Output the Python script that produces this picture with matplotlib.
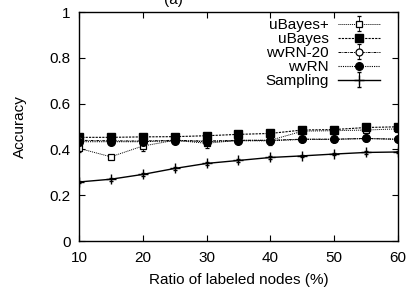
import matplotlib
matplotlib.use('Agg')
import matplotlib.pyplot as plt

plt.rcParams['font.family'] = ['Liberation Sans', 'DejaVu Sans']

ratio = [10, 15, 20, 25, 30, 35, 40, 45, 50, 55, 60]

ubayes_plus = [0.405, 0.368, 0.415, 0.44, 0.427, 0.44, 0.44, 0.48, 0.482, 0.485, 0.49]
ubayes_plus_err = [0.015, 0.01, 0.02, 0.01, 0.02, 0.01, 0.02, 0.01, 0.01, 0.015, 0.01]
ubayes = [0.453, 0.453, 0.455, 0.456, 0.46, 0.466, 0.47, 0.485, 0.487, 0.496, 0.499]
wvrn20 = [0.44, 0.438, 0.437, 0.44, 0.437, 0.44, 0.44, 0.445, 0.445, 0.448, 0.445]
wvrn20_err = [0.01, 0.01, 0.01, 0.01, 0.01, 0.01, 0.01, 0.01, 0.01, 0.01, 0.01]
wvrn = [0.434, 0.434, 0.434, 0.438, 0.434, 0.438, 0.438, 0.444, 0.444, 0.448, 0.444]
sampling = [0.258, 0.27, 0.291, 0.317, 0.339, 0.352, 0.365, 0.372, 0.38, 0.387, 0.389]
sampling_err = [0.006, 0.006, 0.006, 0.006, 0.006, 0.006, 0.006, 0.006, 0.006, 0.006, 0.006]

fig = plt.figure(figsize=(4.09, 2.89), dpi=100)
ax = fig.add_axes([0.193, 0.166, 0.78, 0.792])

ax.errorbar(ratio, ubayes_plus, yerr=ubayes_plus_err, color='black', ls=(0, (1, 1)), lw=0.7,
            marker='s', mfc='white', ms=5, mew=0.9, capsize=1.5, elinewidth=0.6, label='uBayes+')
ax.errorbar(ratio, ubayes, color='black', ls=(0, (2, 1)), lw=0.8,
            marker='s', mfc='black', ms=6, label='uBayes')
ax.errorbar(ratio, wvrn20, yerr=wvrn20_err, color='black', ls=(0, (3, 1, 1, 1)), lw=0.7,
            marker='o', mfc='white', ms=5, mew=0.9, capsize=1.5, elinewidth=0.6, label='wvRN-20')
ax.errorbar(ratio, wvrn, color='black', ls=(0, (1, 1)), lw=0.8,
            marker='o', mfc='black', ms=5.5, label='wvRN')
ax.errorbar(ratio, sampling, yerr=sampling_err, color='black', ls='-', lw=1,
            marker='+', ms=7, mew=1, capsize=1.5, elinewidth=0.8, label='Sampling')

ax.set_xlim(10, 60)
ax.set_ylim(0, 1)
ax.set_xticks([10, 20, 30, 40, 50, 60])
ax.set_yticks([0, 0.2, 0.4, 0.6, 0.8, 1])
ax.set_yticklabels(['0', '0.2', '0.4', '0.6', '0.8', '1'])
ax.tick_params(direction='in', top=True, right=True, labelsize=11, length=4)
ax.tick_params(axis='x', pad=7)
ax.tick_params(axis='y', pad=6)
for s in ax.spines.values():
    s.set_linewidth(1)

ax.set_xlabel('Ratio of labeled nodes (%)', fontsize=11, labelpad=6)
ax.set_ylabel('Accuracy', fontsize=11, labelpad=16)

ax.legend(loc='upper right', bbox_to_anchor=(0.944, 0.975), frameon=False, markerfirst=False,
          fontsize=11, handlelength=2.75, labelspacing=0.0, borderaxespad=0, handletextpad=0.6,
          borderpad=0)

fig.text(0.40, 1.0, '(a)', fontsize=11, ha='left', va='center')

fig.savefig('out.png', dpi=100)
